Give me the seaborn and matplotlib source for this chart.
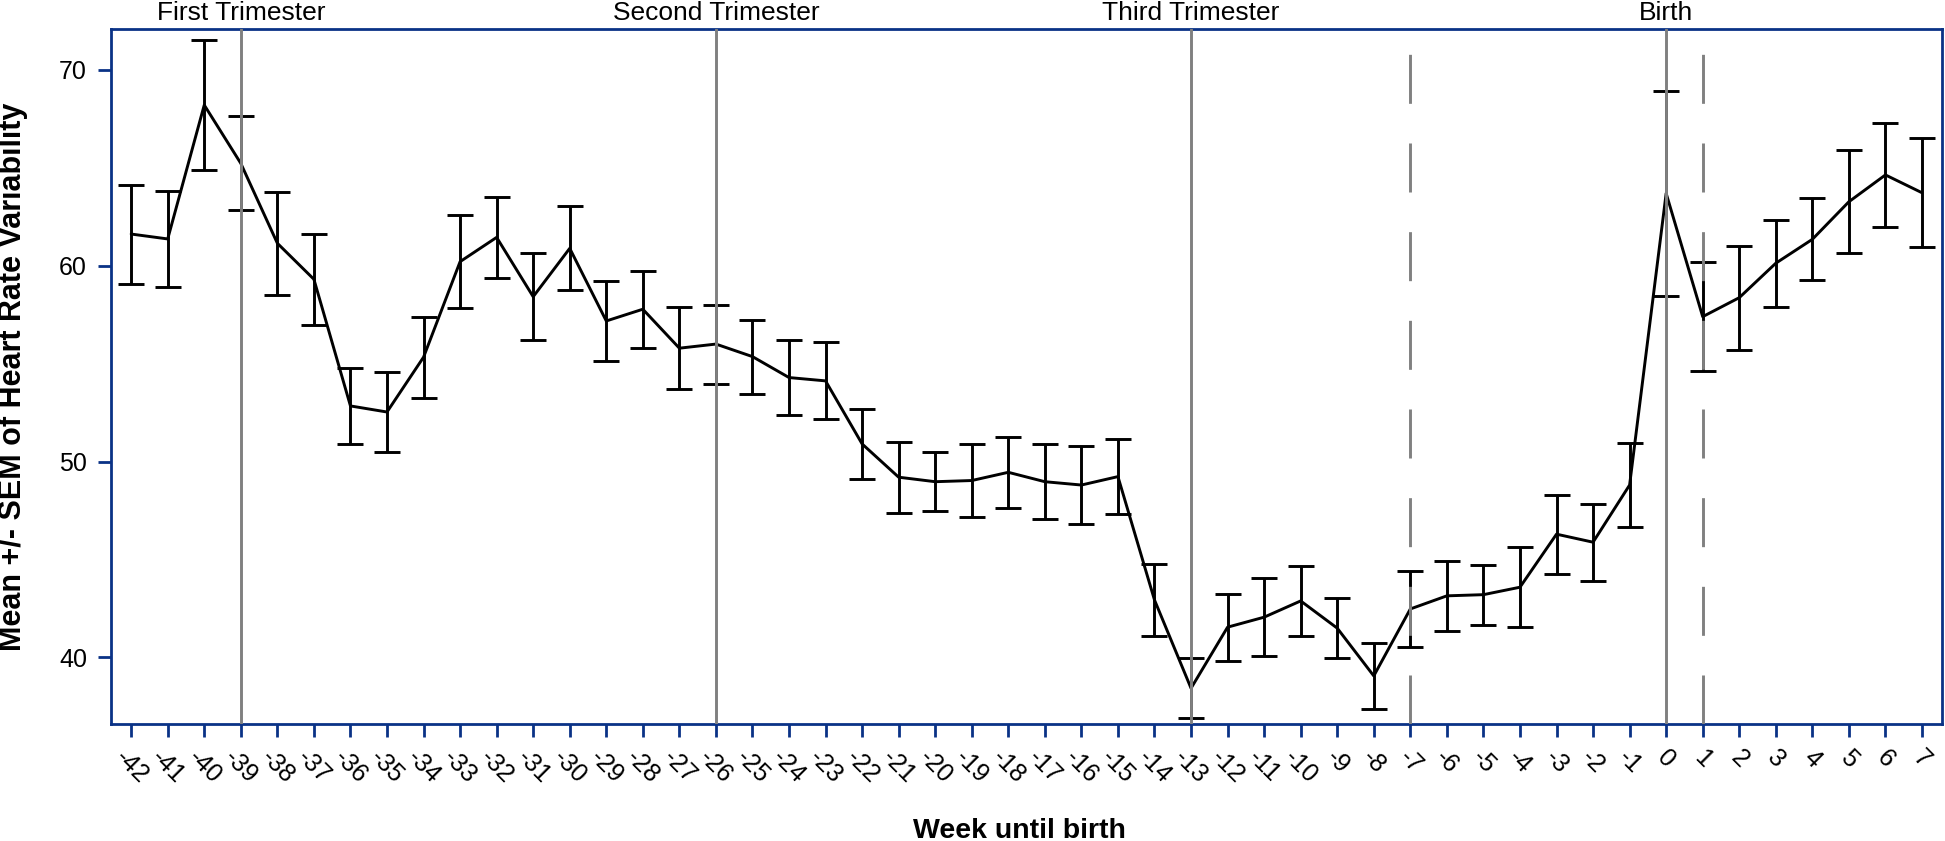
import matplotlib.pyplot as plt
import pandas as pd
import seaborn as sns

# Weekly mean and SEM of heart rate variability
weeks = list(range(-42, 8))
hrv_mean = [
    61.62, 61.37, 68.21, 65.23, 61.15, 59.31, 52.84, 52.53, 55.33, 60.21,
    61.45, 58.42, 60.89, 57.18, 57.78, 55.79, 56.00, 55.36, 54.29, 54.12,
    50.90, 49.20, 48.97, 49.03, 49.45, 48.97, 48.80, 49.23, 42.93, 38.42,
    41.54, 42.05, 42.88, 41.49, 39.05, 42.47, 43.14, 43.20, 43.58, 46.29,
    45.88, 48.80, 63.70, 57.40, 58.37, 60.13, 61.35, 63.27, 64.64, 63.73,
]
hrv_sem = [
    2.53, 2.46, 3.30, 2.40, 2.63, 2.33, 1.92, 2.02, 2.07, 2.36,
    2.06, 2.22, 2.14, 2.02, 1.97, 2.09, 2.02, 1.89, 1.93, 1.97,
    1.77, 1.81, 1.52, 1.88, 1.82, 1.93, 2.00, 1.92, 1.82, 1.53,
    1.71, 1.99, 1.78, 1.54, 1.70, 1.95, 1.79, 1.54, 2.03, 2.02,
    1.96, 2.13, 5.22, 2.79, 2.66, 2.22, 2.09, 2.64, 2.66, 2.79,
]

# Reference lines and their labels
milestone_weeks = [-39, -26, -13, 0]
milestone_labels = ["First Trimester", "Second Trimester", "Third Trimester", "Birth"]
dashed_weeks = [-7, 1]

y_ticks = [40, 50, 60, 70]

if __name__ == "__main__":

    sns.set_style("ticks")
    plt.rcParams["font.family"] = ["Liberation Sans", "DejaVu Sans"]
    plt.rcParams["text.color"] = "black"
    plt.rcParams["axes.labelcolor"] = "black"

    blue = "#0a3286"
    grey = "#808080"

    df = pd.DataFrame({"week": weeks, "mean": hrv_mean, "sem": hrv_sem})

    fig, ax = plt.subplots(figsize=(19.45, 8.41), dpi=100)
    fig.subplots_adjust(left=0.0571, right=0.9985, top=0.9652, bottom=0.1388)

    sns.lineplot(data=df, x="week", y="mean", ax=ax, color="black",
                 linewidth=2.1, errorbar=None, zorder=2)
    ax.errorbar(df["week"], df["mean"], yerr=df["sem"], fmt="none",
                ecolor="black", elinewidth=2.1, capsize=9.6, capthick=2.1,
                zorder=2)

    for w in milestone_weeks:
        ax.axvline(w, color=grey, linewidth=2.1, zorder=3)
    for w in dashed_weeks:
        ax.axvline(w, color=grey, linewidth=2.1, dashes=(16.8, 13.6), zorder=3)

    for w, label in zip(milestone_weeks, milestone_labels):
        ax.annotate(label, xy=(w, 1), xycoords=ax.get_xaxis_transform(),
                    xytext=(0, 7), textcoords="offset points",
                    ha="center", va="baseline", fontsize=19)

    ax.set_xlim(-42.55, 7.55)
    ax.set_ylim(36.58, 72.08)
    ax.set_xticks(weeks)
    ax.set_xticklabels([str(w) for w in weeks], rotation=-45, ha="center")
    ax.set_yticks(y_ticks)
    ax.set_yticklabels([str(t) for t in y_ticks])

    ax.set_xlabel("Week until birth", fontsize=20.5, fontweight="bold")
    ax.set_ylabel("Mean +/- SEM of Heart Rate Variability", fontsize=22,
                  fontweight="bold")
    ax.xaxis.set_label_coords(0.496, -0.1348)
    ax.yaxis.set_label_coords(-0.0455, 0.5)

    for side in ["left", "right", "top", "bottom"]:
        ax.spines[side].set_visible(True)
        ax.spines[side].set_color(blue)
        ax.spines[side].set_linewidth(2)

    ax.tick_params(axis="both", colors=blue, labelcolor="black", length=9.4,
                   width=2, labelsize=18)
    ax.tick_params(axis="x", pad=6)
    ax.tick_params(axis="y", pad=8)

    fig.savefig("out.png", dpi=100)
